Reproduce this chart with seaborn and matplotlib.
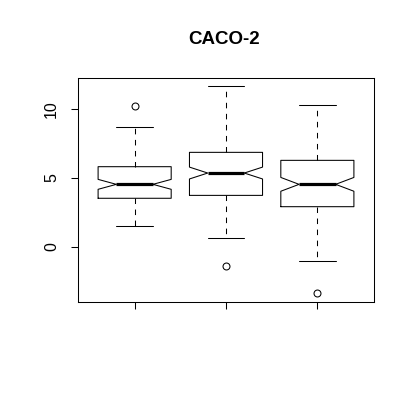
import matplotlib
matplotlib.use("Agg")
import matplotlib.pyplot as plt
import seaborn as sns

# values (y units)
groups = ["1", "2", "3"]
q1 = [3.53, 3.74, 2.92]
med = [4.54, 5.36, 4.54]
q3 = [5.82, 6.86, 6.28]
whislo = [1.52, 0.63, -1.04]
whishi = [8.67, 11.67, 10.30]
notch_lo = [4.18, 4.93, 4.04]
notch_hi = [4.90, 5.79, 5.04]
outliers = [[10.2], [-1.38], [-3.33]]
yticks = [0, 5, 10]

sns.set_style("white")
plt.rcParams['font.family'] = ['Liberation Sans', 'DejaVu Sans']
plt.rcParams['text.color'] = 'black'
plt.rcParams['xtick.color'] = 'black'
plt.rcParams['ytick.color'] = 'black'

stats = []
for i, g in enumerate(groups):
    stats.append(dict(label=g, q1=q1[i], med=med[i], q3=q3[i],
                      whislo=whislo[i], whishi=whishi[i],
                      cilo=notch_lo[i], cihi=notch_hi[i], fliers=outliers[i]))

fig = plt.figure(figsize=(4.14, 4.0), dpi=100)
ax = fig.add_axes([78/414, 98/400, 296/414, 224/400])

lw = 0.75
ax.bxp(stats, positions=[1, 2, 3], widths=0.8, capwidths=0.4, shownotches=True,
       boxprops=dict(color="black", linewidth=lw),
       medianprops=dict(color="black", linewidth=2.3, solid_capstyle="butt"),
       whiskerprops=dict(color="black", linewidth=lw, linestyle=(0, (5.3, 5.3))),
       capprops=dict(color="black", linewidth=lw),
       flierprops=dict(marker="o", markerfacecolor="none", markeredgecolor="black",
                       markersize=5, markeredgewidth=lw))

ax.set_xlim(0.38, 3.62)
ax.set_ylim(-3.99, 12.25)
ax.set_yticks(yticks)
ax.set_yticklabels([str(t) for t in yticks], rotation=90, va="center", fontsize=11.5)
ax.set_xticks([1, 2, 3])
ax.set_xticklabels([])
ax.tick_params(axis="both", direction="out", length=5, width=lw, color="black",
               left=True, bottom=True, pad=8.5)
for s in ax.spines.values():
    s.set_color("black")
    s.set_linewidth(lw)

fig.text(0.541, 1 - 40/400, "CACO-2", ha="center", va="center",
         fontsize=13.5, fontweight="bold")

fig.savefig("out.png", dpi=100)
